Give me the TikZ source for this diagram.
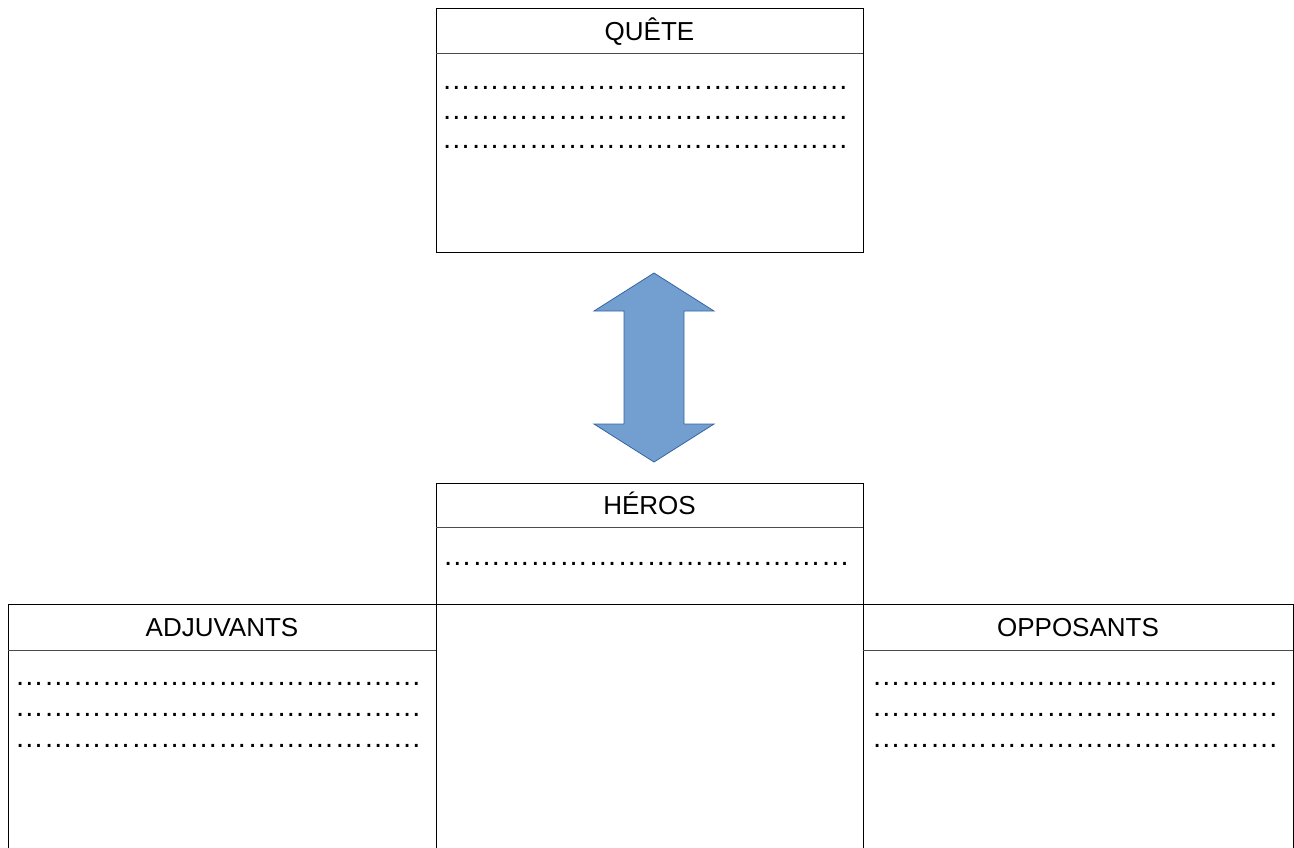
\documentclass[tikz,border=0pt]{standalone}
\usepackage{fontspec}
\setmainfont{Liberation Sans}
\usepackage{xcolor}
\usetikzlibrary{positioning}
\definecolor{arrowfill}{HTML}{729FCF}
\definecolor{arrowline}{HTML}{3465A4}
\tikzset{
  frame/.style={draw=black,line width=0.75pt},
  rule/.style={draw=black!70,line width=0.75pt},
  title/.style={anchor=base,inner sep=0pt,font=\fontsize{19.5}{23}\selectfont},
  dots/.style={anchor=base west,inner sep=0pt,font=\fontsize{21.8}{26}\selectfont},
  bigarrow/.style={fill=arrowfill,draw=arrowline,line width=0.6pt}
}
\newcommand{\pointilles}{……………………………………}

\begin{document}
\begin{tikzpicture}[x=0.75pt,y=-0.75pt]
  \useasboundingbox (0,0) rectangle (1294,847);
  \clip (0,0) rectangle (1294,847);
  % quete
  \draw[frame] (436,8) rectangle (863,252);
  \draw[rule] (436,53) -- (863,53);
  \node[title] (quete) at (649.5,40) {QUÊTE};
  \foreach \y [count=\i] in {89.8,119.1,148.5}
    \node[dots] (quete\i) at (441.5,\y) {\pointilles};
  % heros
  \draw[frame] (436,483) rectangle (863,860);
  \draw[rule] (436,527) -- (863,527);
  \draw[frame] (436,604) -- (863,604);
  \node[title] (heros) at (649.5,514) {HÉROS};
  \node[dots] (heros1) at (442.7,565.1) {\pointilles};
  % adjuvants
  \draw[frame] (8,604) rectangle (436,860);
  \draw[rule] (8,650) -- (436,650);
  \node[title] (adjuvants) at (222,636) {ADJUVANTS};
  \foreach \y [count=\i] in {685.8,716.5,747.5}
    \node[dots] (adjuvants\i) at (14.5,\y) {\pointilles};
  % opposants
  \draw[frame] (863,604) rectangle (1293,860);
  \draw[rule] (863,650) -- (1293,650);
  \node[title] (opposants) at (1078,636) {OPPOSANTS};
  \foreach \y [count=\i] in {685.8,716.5,747.5}
    \node[dots] (opposants\i) at (871.5,\y) {\pointilles};
  % fleche
  \coordinate (haut) at (654,273);
  \coordinate (bas) at (654,462);
  \draw[bigarrow] (haut) -- ++(60,38) -- ++(-30,0) -- ++(0,113) -- ++(30,0)
    -- (bas) -- ++(-60,-38) -- ++(30,0) -- ++(0,-113) -- ++(-30,0) -- cycle;
\end{tikzpicture}
\end{document}
